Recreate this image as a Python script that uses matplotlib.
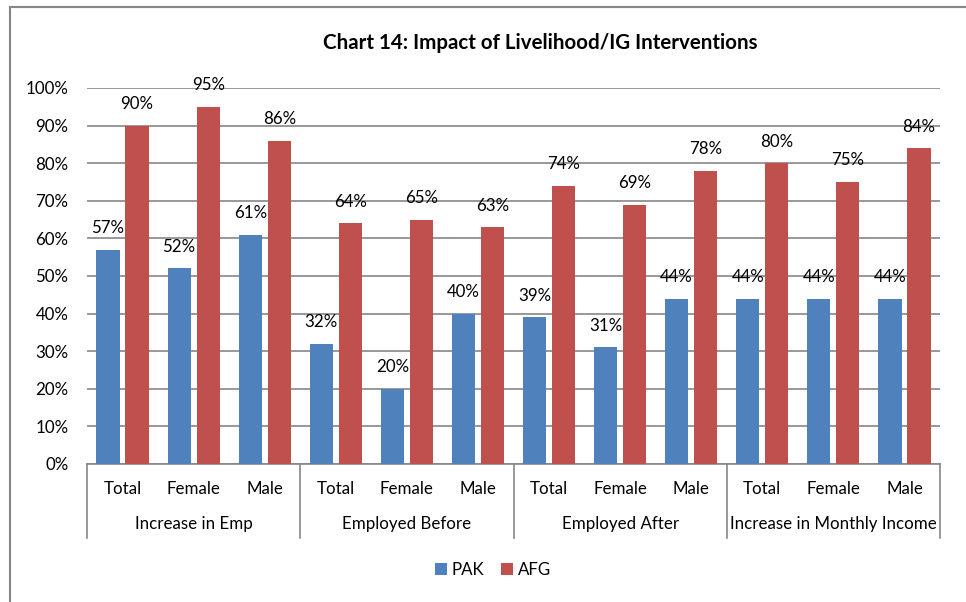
import matplotlib.pyplot as plt
from matplotlib.lines import Line2D
import numpy as np

plt.rcParams['font.family'] = ['Lato', 'DejaVu Sans']

# data
groups = ["Increase in Emp", "Employed Before", "Employed After", "Increase in Monthly Income"]
subs = ["Total", "Female", "Male"]
pak = [57, 52, 61, 32, 20, 40, 39, 31, 44, 44, 44, 44]
afg = [90, 95, 86, 64, 65, 63, 74, 69, 78, 80, 75, 84]
yticks = [0, 10, 20, 30, 40, 50, 60, 70, 80, 90, 100]

blue = "#4F81BD"
red = "#C0504D"
grid = "#868686"
fs = 12.2

fig = plt.figure(figsize=(9.66, 6.02), dpi=100)
ax = fig.add_axes([87 / 966, 1 - 464 / 602, 853 / 966, 376 / 602])

x = np.arange(len(pak))
w = 0.325
off = 0.204
b1 = ax.bar(x - off, pak, w, color=blue, label="PAK", zorder=3)
b2 = ax.bar(x + off, afg, w, color=red, label="AFG", zorder=3)

for bars, vals in [(b1, pak), (b2, afg)]:
    for rect, v in zip(bars, vals):
        ax.annotate(f"{v}%", (rect.get_x() + rect.get_width() / 2, v),
                    xytext=(0, 15.5), textcoords="offset points",
                    ha="center", va="center", fontsize=fs, color="#000000")

ax.set_xlim(-0.5, len(pak) - 0.5)
ax.set_ylim(0, 100)
ax.set_yticks(yticks)
ax.set_yticklabels([f"{t}%" for t in yticks], fontsize=fs)
ax.tick_params(axis="y", length=0, pad=13.5)
ax.set_xticks([])
ax.yaxis.grid(True, color=grid, linewidth=1.2, zorder=0)
for s in ["left", "right", "top"]:
    ax.spines[s].set_visible(False)
ax.spines["bottom"].set_color(grid)
ax.spines["bottom"].set_linewidth(1.2)

# multi-level category axis
trans = ax.get_xaxis_transform()
for i in range(len(pak)):
    ax.text(i, -25 / 376, subs[i % 3], transform=trans, ha="center", va="center",
            fontsize=fs)
for g, name in enumerate(groups):
    ax.text(g * 3 + 1, -60 / 376, name, transform=trans, ha="center", va="center",
            fontsize=fs)
for k in range(len(groups) + 1):
    ax.plot([k * 3 - 0.5] * 2, [0, -74 / 376], transform=trans, color=grid,
            linewidth=1.2, clip_on=False)

fig.text(540 / 966, 1 - 43 / 602, "Chart 14: Impact of Livelihood/IG Interventions",
         ha="center", va="center", fontsize=14.8, fontweight="bold")

fig.legend(handles=[b1, b2], labels=["PAK", "AFG"], loc="center",
           bbox_to_anchor=(493 / 966, 1 - 570 / 602), ncol=2, frameon=False,
           fontsize=fs, handlelength=0.7, handleheight=0.7, columnspacing=1.0,
           handletextpad=0.3)

# chart border
fig.add_artist(Line2D([10 / 966, 10 / 966], [0, 1 - 7 / 602], color=grid, linewidth=1.5,
                      transform=fig.transFigure))
fig.add_artist(Line2D([10 / 966, 1], [1 - 7 / 602, 1 - 7 / 602], color=grid, linewidth=1.5,
                      transform=fig.transFigure))

fig.savefig("out.png", dpi=100)
